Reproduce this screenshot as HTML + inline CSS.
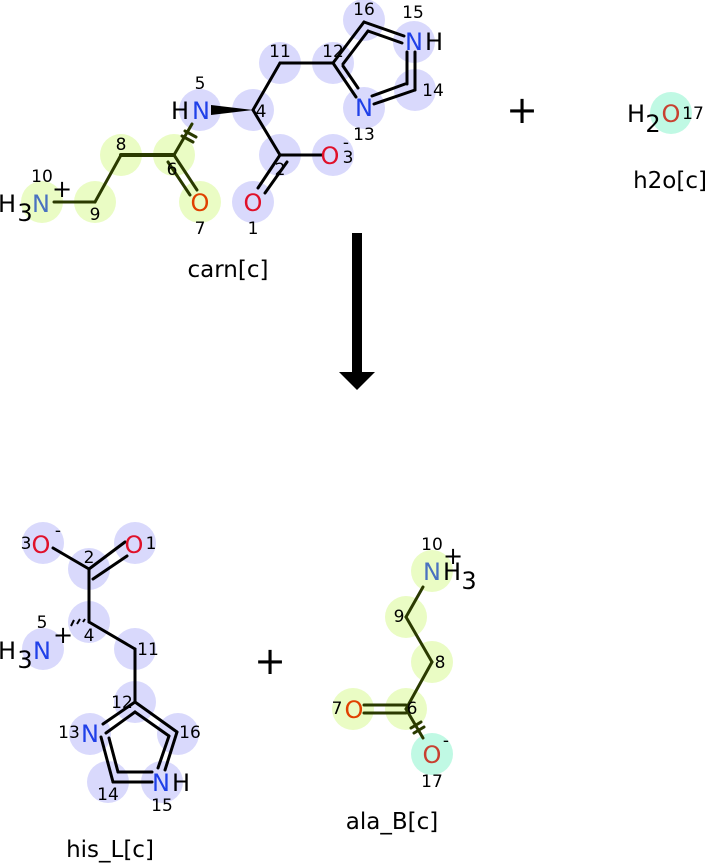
<!DOCTYPE html>
<html><head><meta charset="utf-8"><style>
html,body{margin:0;padding:0;background:#fff}
svg{display:block}
text{font-family:"DejaVu Sans","Liberation Sans",sans-serif;text-anchor:middle;dominant-baseline:central}
.a{font-size:24px}
.n{font-size:17px;fill:#000}
.t{font-size:23px}
</style></head><body>
<svg width="710" height="866" viewBox="0 0 710 866" xmlns="http://www.w3.org/2000/svg">
<g fill="#d9d9fc">
<circle cx="200" cy="110" r="21"/><circle cx="253" cy="110" r="21"/><circle cx="280" cy="63" r="21"/>
<circle cx="333" cy="63" r="21"/><circle cx="364" cy="20" r="21"/><circle cx="414" cy="42" r="21"/>
<circle cx="415" cy="90" r="21"/><circle cx="364" cy="108" r="21"/><circle cx="280" cy="155" r="21"/>
<circle cx="333" cy="155" r="21"/><circle cx="253" cy="202" r="21"/>
<circle cx="43" cy="543" r="21"/><circle cx="135" cy="543" r="21"/><circle cx="89" cy="569" r="21"/>
<circle cx="89" cy="622" r="21"/><circle cx="43" cy="649" r="21"/><circle cx="135" cy="649" r="21"/>
<circle cx="135" cy="702" r="21"/><circle cx="90" cy="734" r="21"/><circle cx="178" cy="734" r="21"/>
<circle cx="108" cy="782" r="21"/><circle cx="162" cy="782" r="21"/>
</g>
<g fill="#eafcc4">
<circle cx="42" cy="202" r="21"/><circle cx="95" cy="202" r="21"/><circle cx="121" cy="155" r="21"/>
<circle cx="174" cy="155" r="21"/><circle cx="200" cy="202" r="21"/>
<circle cx="432" cy="571" r="21"/><circle cx="406" cy="617" r="21"/><circle cx="432" cy="662" r="21"/>
<circle cx="406" cy="709" r="21"/><circle cx="353" cy="709" r="21"/>
</g>
<g fill="#c0f9e4"><circle cx="671" cy="113" r="21"/><circle cx="432" cy="754" r="21"/></g>

<g stroke="#2a3a00" stroke-width="3" fill="none" stroke-linecap="round">
<line x1="54" y1="202" x2="95" y2="202"/><line x1="95" y1="202" x2="121" y2="155"/>
<line x1="121" y1="155" x2="174" y2="155" stroke-width="4"/>
<line x1="174" y1="155" x2="197" y2="190"/><line x1="168" y1="162" x2="190" y2="195"/>
<line x1="174" y1="155" x2="192" y2="124"/>
<line x1="182" y1="136" x2="193" y2="142"/><line x1="185" y1="131" x2="196" y2="137"/>
</g>
<g stroke="#000" stroke-width="3" fill="none" stroke-linecap="round">
<line x1="253" y1="110" x2="280" y2="63"/><line x1="280" y1="63" x2="333" y2="63"/>
<line x1="333" y1="63" x2="364" y2="22"/><line x1="343" y1="64" x2="368" y2="31"/>
<line x1="364" y1="22" x2="404" y2="36"/><line x1="368" y1="31" x2="402" y2="43"/>
<line x1="407" y1="52" x2="407" y2="84"/><line x1="415" y1="52" x2="415" y2="90"/>
<line x1="415" y1="90" x2="374" y2="104"/><line x1="405" y1="84" x2="372" y2="96"/>
<line x1="356" y1="97" x2="333" y2="63"/><line x1="358" y1="88" x2="343" y2="66"/>
<line x1="253" y1="110" x2="280" y2="155"/><line x1="280" y1="155" x2="322" y2="155"/>
<line x1="280" y1="155" x2="258" y2="188"/><line x1="287" y1="162" x2="265" y2="193"/>
</g>
<polygon points="253,110 211,105 211,115" fill="#000"/>
<text class="a" x="41" y="204" fill="#4a72c0">N</text><text class="a" x="7" y="204" fill="#000">H</text><text class="a" x="25" y="213" fill="#000">3</text>
<text class="n" x="42" y="177">10</text><text class="a" x="62" y="189" fill="#000">+</text>
<text class="n" x="95" y="215" fill="#2a3a00">9</text><text class="n" x="121" y="145" fill="#2a3a00">8</text>
<text class="n" x="172" y="170" fill="#2a3a00">6</text>
<text class="a" x="200" y="203" fill="#e04000">O</text><text class="n" x="200" y="229">7</text>
<text class="a" x="201" y="111" fill="#2040e8">N</text><text class="a" x="180" y="111" fill="#000">H</text><text class="n" x="200" y="84">5</text>
<text class="n" x="261" y="112">4</text><text class="n" x="280" y="52">11</text><text class="n" x="333" y="52">12</text>
<text class="n" x="364" y="10">16</text><text class="n" x="413" y="13">15</text>
<text class="a" x="414" y="42" fill="#2040e8">N</text><text class="a" x="434" y="42" fill="#000">H</text>
<text class="n" x="433" y="91">14</text>
<text class="a" x="364" y="108" fill="#2040e8">N</text><text class="n" x="364" y="135">13</text>
<text class="n" x="280" y="170">2</text>
<text class="a" x="330" y="156" fill="#e0102a">O</text><text class="n" x="348" y="158">3</text><text class="n" x="346" y="143">-</text>
<text class="a" x="253" y="203" fill="#e0102a">O</text><text class="n" x="253" y="229">1</text>
<text class="t" x="228" y="270">carn[c]</text>

<text x="522" y="110" style="font-size:38px">+</text>
<text class="a" x="636" y="114">H</text><text class="a" x="653" y="124">2</text>
<text class="a" x="671" y="114" fill="#c84030">O</text><text class="n" x="693" y="114">17</text>
<text class="t" x="670" y="181">h2o[c]</text>

<rect x="352" y="233" width="10" height="140" fill="#000"/>
<polygon points="339,372 375,372 357,390" fill="#000"/>

<g stroke="#000" stroke-width="3" fill="none" stroke-linecap="round">
<line x1="53" y1="548" x2="89" y2="569"/>
<line x1="89" y1="569" x2="125" y2="542"/><line x1="93" y1="579" x2="127" y2="556"/>
<line x1="89" y1="569" x2="89" y2="622"/>
<line x1="89" y1="622" x2="135" y2="649"/><line x1="135" y1="649" x2="135" y2="702"/>
<line x1="135" y1="702" x2="103" y2="724"/><line x1="135" y1="712" x2="106" y2="733"/>
<line x1="135" y1="702" x2="177" y2="732"/><line x1="135" y1="712" x2="169" y2="736"/>
<line x1="101" y1="737" x2="113" y2="782"/><line x1="109" y1="738" x2="118" y2="772"/>
<line x1="113" y1="782" x2="152" y2="782"/><line x1="118" y1="772" x2="152" y2="772"/>
<line x1="177" y1="732" x2="165" y2="770"/><line x1="169" y1="736" x2="158" y2="768"/>
</g>
<g stroke="#000" stroke-width="2">
<line x1="83" y1="622" x2="85" y2="619"/><line x1="77" y1="624" x2="80" y2="619"/><line x1="71" y1="626" x2="74" y2="620"/>
</g>
<text class="a" x="41" y="545" fill="#e0102a">O</text><text class="n" x="26" y="544">3</text><text class="n" x="58" y="531">-</text>
<text class="a" x="134" y="545" fill="#e0102a">O</text><text class="n" x="151" y="544">1</text>
<text class="n" x="89" y="558">2</text><text class="n" x="89" y="636">4</text>
<text class="a" x="42" y="651" fill="#2040e8">N</text><text class="a" x="7" y="651">H</text><text class="a" x="25" y="660">3</text>
<text class="n" x="42" y="623">5</text><text class="a" x="63" y="635">+</text>
<text class="n" x="148" y="650">11</text><text class="n" x="122" y="703">12</text>
<text class="a" x="90" y="734" fill="#2040e8">N</text><text class="n" x="69" y="733">13</text>
<text class="n" x="190" y="733">16</text><text class="n" x="108" y="795">14</text>
<text class="a" x="161" y="783" fill="#2040e8">N</text><text class="a" x="181" y="783">H</text><text class="n" x="162" y="806">15</text>
<text class="t" x="110" y="850">his_L[c]</text>

<text x="270" y="661" style="font-size:38px">+</text>

<g stroke="#2a3a00" stroke-width="3" fill="none" stroke-linecap="round">
<line x1="423" y1="587" x2="406" y2="617"/><line x1="406" y1="617" x2="432" y2="662"/>
<line x1="432" y1="662" x2="406" y2="709"/>
<line x1="364" y1="705" x2="406" y2="705"/><line x1="364" y1="713" x2="406" y2="713"/>
<line x1="406" y1="709" x2="423" y2="738"/>
<line x1="411" y1="728" x2="421" y2="722"/><line x1="414" y1="733" x2="424" y2="727"/>
</g>
<text class="a" x="432" y="572" fill="#4a72c0">N</text><text class="a" x="452" y="572">H</text><text class="a" x="469" y="581">3</text>
<text class="n" x="432" y="545">10</text><text class="a" x="453" y="556">+</text>
<text class="n" x="399" y="617" fill="#2a3a00">9</text><text class="n" x="440" y="663" fill="#2a3a00">8</text>
<text class="n" x="412" y="709" fill="#2a3a00">6</text>
<text class="a" x="354" y="710" fill="#e04000">O</text><text class="n" x="337" y="709" fill="#2a3a00">7</text>
<text class="a" x="432" y="755" fill="#c84030">O</text><text class="n" x="446" y="741">-</text><text class="n" x="432" y="782">17</text>
<text class="t" x="392" y="822">ala_B[c]</text>
</svg>
</body></html>
